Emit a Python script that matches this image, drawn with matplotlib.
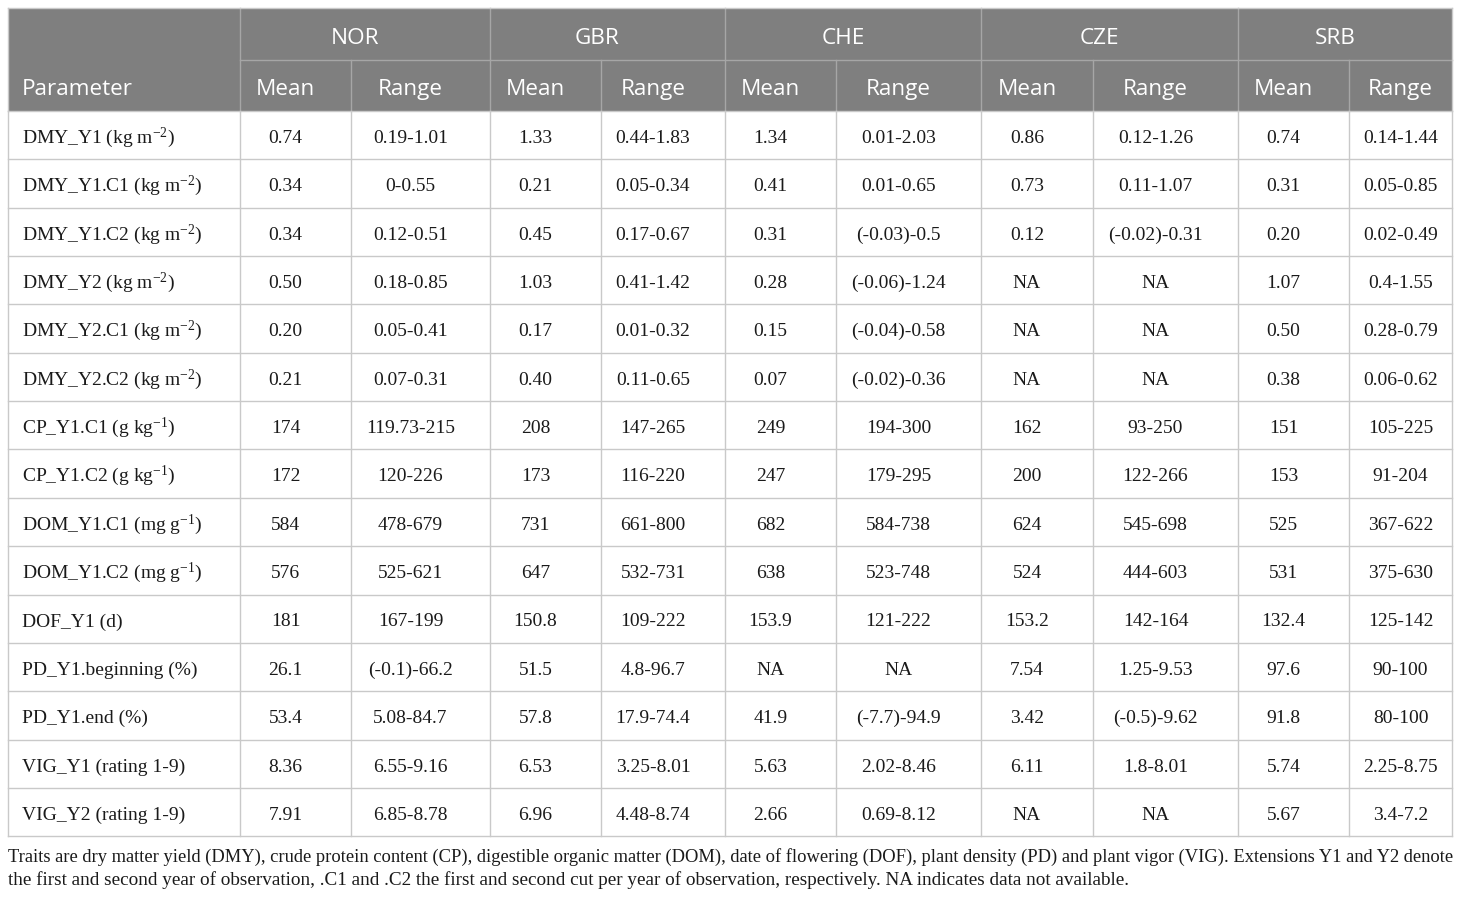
import matplotlib
matplotlib.use("Agg")
import matplotlib.pyplot as plt

plt.rcParams['mathtext.fontset'] = 'custom'
plt.rcParams['mathtext.rm'] = 'Liberation Serif'
plt.rcParams['mathtext.it'] = 'Liberation Serif:italic'
plt.rcParams['mathtext.default'] = 'rm'

countries = ["NOR", "GBR", "CHE", "CZE", "SRB"]
parameters = [
    r"DMY_Y1 (kg m$^{-2}$)",
    r"DMY_Y1.C1 (kg m$^{-2}$)",
    r"DMY_Y1.C2 (kg m$^{-2}$)",
    r"DMY_Y2 (kg m$^{-2}$)",
    r"DMY_Y2.C1 (kg m$^{-2}$)",
    r"DMY_Y2.C2 (kg m$^{-2}$)",
    r"CP_Y1.C1 (g kg$^{-1}$)",
    r"CP_Y1.C2 (g kg$^{-1}$)",
    r"DOM_Y1.C1 (mg g$^{-1}$)",
    r"DOM_Y1.C2 (mg g$^{-1}$)",
    "DOF_Y1 (d)",
    "PD_Y1.beginning (%)",
    "PD_Y1.end (%)",
    "VIG_Y1 (rating 1-9)",
    "VIG_Y2 (rating 1-9)",
]
nor_mean = ["0.74", "0.34", "0.34", "0.50", "0.20", "0.21", "174", "172", "584", "576", "181", "26.1", "53.4", "8.36", "7.91"]
nor_range = ["0.19-1.01", "0-0.55", "0.12-0.51", "0.18-0.85", "0.05-0.41", "0.07-0.31", "119.73-215", "120-226",
             "478-679", "525-621", "167-199", "(-0.1)-66.2", "5.08-84.7", "6.55-9.16", "6.85-8.78"]
gbr_mean = ["1.33", "0.21", "0.45", "1.03", "0.17", "0.40", "208", "173", "731", "647", "150.8", "51.5", "57.8", "6.53", "6.96"]
gbr_range = ["0.44-1.83", "0.05-0.34", "0.17-0.67", "0.41-1.42", "0.01-0.32", "0.11-0.65", "147-265", "116-220",
             "661-800", "532-731", "109-222", "4.8-96.7", "17.9-74.4", "3.25-8.01", "4.48-8.74"]
che_mean = ["1.34", "0.41", "0.31", "0.28", "0.15", "0.07", "249", "247", "682", "638", "153.9", "NA", "41.9", "5.63", "2.66"]
che_range = ["0.01-2.03", "0.01-0.65", "(-0.03)-0.5", "(-0.06)-1.24", "(-0.04)-0.58", "(-0.02)-0.36", "194-300", "179-295",
             "584-738", "523-748", "121-222", "NA", "(-7.7)-94.9", "2.02-8.46", "0.69-8.12"]
cze_mean = ["0.86", "0.73", "0.12", "NA", "NA", "NA", "162", "200", "624", "524", "153.2", "7.54", "3.42", "6.11", "NA"]
cze_range = ["0.12-1.26", "0.11-1.07", "(-0.02)-0.31", "NA", "NA", "NA", "93-250", "122-266",
             "545-698", "444-603", "142-164", "1.25-9.53", "(-0.5)-9.62", "1.8-8.01", "NA"]
srb_mean = ["0.74", "0.31", "0.20", "1.07", "0.50", "0.38", "151", "153", "525", "531", "132.4", "97.6", "91.8", "5.74", "5.67"]
srb_range = ["0.14-1.44", "0.05-0.85", "0.02-0.49", "0.4-1.55", "0.28-0.79", "0.06-0.62", "105-225", "91-204",
             "367-622", "375-630", "125-142", "90-100", "80-100", "2.25-8.75", "3.4-7.2"]

footnote = [
    "Traits are dry matter yield (DMY), crude protein content (CP), digestible organic matter (DOM), date of flowering (DOF), "
    "plant density (PD) and plant vigor (VIG). Extensions Y1 and Y2 denote",
    "the first and second year of observation, .C1 and .C2 the first and second cut per year of observation, "
    "respectively. NA indicates data not available.",
]

columns = [nor_mean, nor_range, gbr_mean, gbr_range, che_mean, che_range,
           cze_mean, cze_range, srb_mean, srb_range]

# layout in pixels
col_edges = [8, 240, 351, 490, 601, 725, 836, 981, 1093, 1238, 1349, 1452]
# text sits a bit left of cell centre except in the (narrower) last column
col_shift = [-10, -10, -10, -10, -10, -10, -10, -10, -10, 0]
head_top, head_mid, head_bot = 8, 60, 111
row_h = 48.35
header_bg = "#7f7f7f"
grid_col = "#c9c9c9"
head_line = "#a6a6a6"
text_col = "#1a1a1a"
serif = "Liberation Serif"
sans = "Open Sans"
head_fs = 16.2
body_fs = 14
note_fs = [13.35, 13.8]   # first line is justified (tighter) in the source

fig = plt.figure(figsize=(14.6, 8.98), dpi=100)
ax = fig.add_axes([0, 0, 1, 1])
ax.set_xlim(0, 1460)
ax.set_ylim(898, 0)
ax.axis("off")

left, right = col_edges[0], col_edges[-1]

# header background
ax.add_patch(plt.Rectangle((left, head_top), right - left, head_bot - head_top,
                           facecolor=header_bg, edgecolor="none"))
ax.plot([col_edges[1], right], [head_mid, head_mid], color=head_line, lw=1)
for i, x in enumerate(col_edges[1:-1], start=1):
    y0 = head_top if i % 2 == 1 else head_mid
    ax.plot([x, x], [y0, head_bot], color=head_line, lw=1)

# header text
y_row1 = (head_top + head_mid) / 2 + 9.5
y_row2 = (head_mid + head_bot) / 2 + 9.5
ax.text(22, y_row2, "Parameter", color="white", fontsize=head_fs,
        family=sans, ha="left", va="baseline")
for k, c in enumerate(countries):
    xc = (col_edges[1 + 2 * k] + col_edges[3 + 2 * k]) / 2 + col_shift[2 * k]
    ax.text(xc, y_row1, c, color="white", fontsize=head_fs,
            family=sans, ha="center", va="baseline")
for j in range(10):
    xc = (col_edges[1 + j] + col_edges[2 + j]) / 2 + col_shift[j]
    ax.text(xc, y_row2, "Mean" if j % 2 == 0 else "Range",
            color="white", fontsize=head_fs, family=sans, ha="center", va="baseline")

# body grid
n = len(parameters)
body_bot = head_bot + n * row_h
for r in range(n + 1):
    y = head_bot + r * row_h
    ax.plot([left, right], [y, y], color=grid_col, lw=1)
for x in col_edges:
    ax.plot([x, x], [head_bot, body_bot], color=grid_col, lw=1)
ax.plot([left, right], [head_top, head_top], color=grid_col, lw=1)
ax.plot([left, left], [head_top, head_bot], color=grid_col, lw=1)
ax.plot([right, right], [head_top, head_bot], color=grid_col, lw=1)

# body text
for r in range(n):
    yb = head_bot + r * row_h + 32
    ax.text(22, yb, parameters[r], fontsize=body_fs, family=serif, ha="left",
            va="baseline", color=text_col)
    for j, col in enumerate(columns):
        xc = (col_edges[1 + j] + col_edges[2 + j]) / 2 + col_shift[j]
        ax.text(xc, yb, col[r], fontsize=body_fs, family=serif, ha="center",
                va="baseline", color=text_col)

# footnote
for i, line in enumerate(footnote):
    ax.text(8, 862 + i * 23, line, fontsize=note_fs[i], family=serif, ha="left",
            va="baseline", color=text_col)

fig.savefig("out.png", dpi=100, facecolor="white")
